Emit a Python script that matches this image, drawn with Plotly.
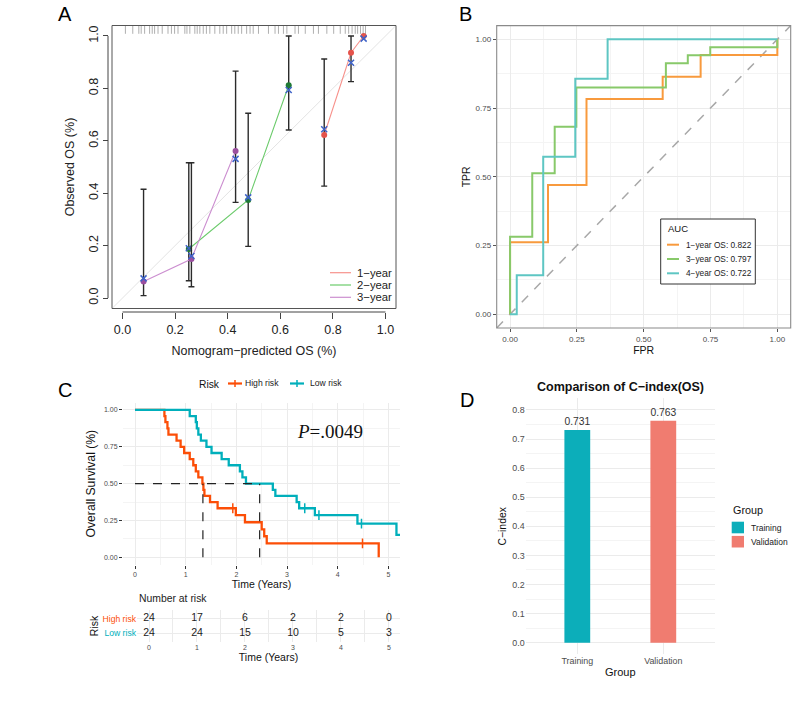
import plotly.graph_objects as go

W, H = 800, 719
def X(p): return p / W
def Y(p): return 1 - p / H

SANS = "Liberation Sans, Arial, Helvetica, sans-serif"
SERIF = "Liberation Serif, Times New Roman, Times, serif"

# ---------------- Panel A: calibration data ----------------
cal_labels = ["1\u2212year", "2\u2212year", "3\u2212year"]
pred_1y = [0.767, 0.869, 0.917]
obs_1y = [0.622, 0.936, 1.000]
corr_1y = [0.644, 0.898, 0.990]
lo_1y = [0.427, 0.826, None]
hi_1y = [0.912, 1.000, None]

pred_2y = [0.252, 0.478, 0.632]
obs_2y = [0.187, 0.374, 0.812]
corr_2y = [0.190, 0.384, 0.794]
lo_2y = [0.066, 0.197, 0.641]
hi_2y = [0.516, 0.705, 1.000]

pred_3y = [0.080, 0.262, 0.430]
obs_3y = [0.063, 0.149, 0.561]
corr_3y = [0.075, 0.160, 0.531]
lo_3y = [0.009, 0.043, 0.365]
hi_3y = [0.415, 0.516, 0.866]

rug_pred = [0.011, 0.039, 0.062, 0.071, 0.084, 0.103, 0.113, 0.122, 0.135, 0.151,
            0.173, 0.186, 0.198, 0.211, 0.237, 0.245, 0.256, 0.275, 0.284, 0.294,
            0.307, 0.319, 0.332, 0.351, 0.370, 0.383, 0.396, 0.415, 0.427, 0.440,
            0.453, 0.472, 0.485, 0.497, 0.517, 0.555, 0.580, 0.593, 0.612, 0.625,
            0.656, 0.669, 0.695, 0.726, 0.745, 0.777, 0.803, 0.828, 0.847, 0.860,
            0.873, 0.885, 0.894, 0.905, 0.915, 0.924]

# ---------------- Panel B: ROC data ----------------
roc_labels = ["1\u2212year OS: 0.822", "3\u2212year OS: 0.797", "4\u2212year OS: 0.722"]
fpr_1y = [0, 0, 0.142, 0.286, 0.571, 0.713, 1.0]
tpr_1y = [0, 0.262, 0.470, 0.783, 0.864, 0.943, 1.0]
fpr_3y = [0, 0, 0.083, 0.167, 0.248, 0.583, 0.665, 0.749, 1.0]
tpr_3y = [0, 0.282, 0.513, 0.682, 0.825, 0.913, 0.942, 0.971, 1.0]
fpr_4y = [0, 0.025, 0.124, 0.244, 0.365, 1.0]
tpr_4y = [0, 0.142, 0.573, 0.857, 1.0, 1.0]

# ---------------- Panel C: Kaplan-Meier data ----------------
km_groups = ["High risk", "Low risk"]
high_time = [0, 0.58, 0.60, 0.64, 0.66, 0.82, 0.90, 0.97, 1.08, 1.15, 1.20, 1.25,
             1.33, 1.35, 1.37, 1.48, 1.63, 1.99, 2.17, 2.50, 2.55, 2.60, 4.81]
high_surv = [1, 0.958, 0.917, 0.875, 0.833, 0.792, 0.750, 0.708, 0.667, 0.625, 0.583,
             0.542, 0.500, 0.458, 0.417, 0.375, 0.333, 0.286, 0.238, 0.190, 0.143, 0.095, 0]
high_cens_time = [1.93, 4.49]
high_cens_surv = [0.333, 0.095]
low_time = [0, 1.08, 1.20, 1.22, 1.25, 1.30, 1.41, 1.51, 1.71, 1.85, 2.07, 2.12, 2.19,
            2.72, 2.77, 3.19, 3.24, 3.55, 4.39, 5.16, 5.30]
low_surv = [1, 0.958, 0.917, 0.875, 0.833, 0.792, 0.750, 0.708, 0.667, 0.625, 0.583,
            0.542, 0.500, 0.458, 0.417, 0.375, 0.333, 0.286, 0.229, 0.152, 0.152]
low_cens_time = [3.35, 3.63, 4.47]
low_cens_surv = [0.333, 0.286, 0.229]
median_times = [1.34, 2.46]
p_value = "P=.0049"

risk_times = [0, 1, 2, 3, 4, 5]
risk_high = [24, 17, 6, 2, 2, 0]
risk_low = [24, 24, 15, 10, 5, 3]

# ---------------- Panel D: C-index data ----------------
cidx_groups = ["Training", "Validation"]
cidx_values = [0.731, 0.763]

# ---------------- colours ----------------
A_line = ["#F7928C", "#6CCB6C", "#CC8FD0"]
A_dot = ["#E5534B", "#1F7A35", "#9B4F9F"]
A_corr = "#3F63C8"
B_cols = ["#F89A3D", "#88C96A", "#5EC6C3"]
C_cols = ["#FC4E07", "#00AFBB"]
D_cols = ["#0CAEBA", "#F07C70"]
GRID = "#EBEBEB"
MINOR = "#F4F4F4"
TICKTXT = "#4D4D4D"

fig = go.Figure()

# ===== Panel A =====
for pred, obs, corr, lo, hi, lc, dc in [
        (pred_1y, obs_1y, corr_1y, lo_1y, hi_1y, A_line[0], A_dot[0]),
        (pred_2y, obs_2y, corr_2y, lo_2y, hi_2y, A_line[1], A_dot[1]),
        (pred_3y, obs_3y, corr_3y, lo_3y, hi_3y, A_line[2], A_dot[2])]:
    fig.add_trace(go.Scatter(x=pred, y=obs, mode="lines", line=dict(color=lc, width=1.1),
                             showlegend=False, xaxis="x", yaxis="y"))
    up = [None if h is None else h - o for h, o in zip(hi, obs)]
    dn = [None if l is None else o - l for l, o in zip(lo, obs)]
    fig.add_trace(go.Scatter(x=pred, y=obs, mode="markers",
                             marker=dict(color=dc, size=6),
                             error_y=dict(type="data", symmetric=False, array=up, arrayminus=dn,
                                          color="#2B2B2B", thickness=1.4, width=3),
                             showlegend=False, xaxis="x", yaxis="y"))
    fig.add_trace(go.Scatter(x=pred, y=corr, mode="markers",
                             marker=dict(symbol="x-thin-open", size=6, color=A_corr,
                                         line=dict(color=A_corr, width=1.5)),
                             showlegend=False, xaxis="x", yaxis="y"))
fig.add_trace(go.Scatter(x=rug_pred, y=[1.027] * len(rug_pred), mode="markers",
                         marker=dict(symbol="line-ns-open", size=7, color="rgba(110,110,110,0.55)",
                                     line=dict(color="rgba(110,110,110,0.55)", width=1)),
                         showlegend=False, xaxis="x", yaxis="y"))

# ===== Panel B =====
for fpr, tpr, col in [(fpr_1y, tpr_1y, B_cols[0]), (fpr_3y, tpr_3y, B_cols[1]),
                      (fpr_4y, tpr_4y, B_cols[2])]:
    fig.add_trace(go.Scatter(x=fpr, y=tpr, mode="lines", line=dict(color=col, width=2, shape="hv"),
                             showlegend=False, xaxis="x2", yaxis="y2"))

# ===== Panel C =====
for t, s, ct, cs, col in [(high_time, high_surv, high_cens_time, high_cens_surv, C_cols[0]),
                          (low_time, low_surv, low_cens_time, low_cens_surv, C_cols[1])]:
    fig.add_trace(go.Scatter(x=t, y=s, mode="lines", line=dict(color=col, width=2.3, shape="hv"),
                             showlegend=False, xaxis="x3", yaxis="y3"))
    fig.add_trace(go.Scatter(x=ct, y=cs, mode="markers",
                             marker=dict(symbol="line-ns-open", size=7, color=col,
                                         line=dict(color=col, width=1.5)),
                             showlegend=False, xaxis="x3", yaxis="y3"))
fig.add_trace(go.Scatter(x=[0, max(median_times)], y=[0.5, 0.5], mode="lines",
                         line=dict(color="#222", width=1.2, dash="dash"),
                         showlegend=False, xaxis="x3", yaxis="y3"))
for m in median_times:
    fig.add_trace(go.Scatter(x=[m, m], y=[0, 0.5], mode="lines",
                             line=dict(color="#222", width=1.2, dash="dash"),
                             showlegend=False, xaxis="x3", yaxis="y3"))

# risk table
fig.add_trace(go.Scatter(x=risk_times, y=[1] * len(risk_times), mode="text",
                         text=[str(v) for v in risk_high],
                         textfont=dict(size=10.5, color="#222", family=SANS),
                         showlegend=False, xaxis="x4", yaxis="y4"))
fig.add_trace(go.Scatter(x=risk_times, y=[0] * len(risk_times), mode="text",
                         text=[str(v) for v in risk_low],
                         textfont=dict(size=10.5, color="#222", family=SANS),
                         showlegend=False, xaxis="x4", yaxis="y4"))

# ===== Panel D =====
fig.add_trace(go.Bar(x=cidx_groups, y=cidx_values, width=0.3,
                     marker=dict(color=D_cols, line=dict(width=0)),
                     text=[f"{v:.3f}" for v in cidx_values], textposition="outside",
                     textfont=dict(size=10.9, color="#333", family=SANS),
                     cliponaxis=False, showlegend=False, xaxis="x5", yaxis="y5"))

# ---------------- axes ----------------
def tf(size, color=TICKTXT):
    return dict(size=size, color=color, family=SANS)

layout = dict(
    width=W, height=H, autosize=False,
    margin=dict(l=0, r=0, t=0, b=0),
    paper_bgcolor="white", plot_bgcolor="white",
    font=dict(family=SANS, color="#222"),
    showlegend=False,
    # A
    xaxis=dict(domain=[X(112), X(396)], range=[-0.04, 1.04], anchor="free", position=Y(312),
               showgrid=False, zeroline=False, showline=False, ticks="outside", ticklen=6,
               tickcolor="#444", tick0=0, dtick=0.2, tickformat=".1f", tickfont=tf(12.5, "#222"),
               title=dict(text="Nomogram\u2212predicted OS (%)", font=tf(12.5, "#222"), standoff=10)),
    yaxis=dict(domain=[Y(308.5), Y(25.5)], range=[-0.04, 1.04], anchor="free", position=X(108),
               showgrid=False, zeroline=False, showline=False, ticks="outside", ticklen=5,
               tickcolor="#444", tick0=0, dtick=0.2, tickformat=".1f", tickangle=-90,
               tickfont=tf(12.5, "#222"),
               title=dict(text="Observed OS (%)", font=tf(12.5, "#222"), standoff=8)),
    # B
    xaxis2=dict(domain=[X(496.7), X(790.7)], range=[-0.05, 1.05], anchor="y2",
                showgrid=True, gridcolor=GRID, zeroline=False, showline=False,
                ticks="outside", ticklen=3, tickcolor="#555", tick0=0, dtick=0.25, tickformat=".2f",
                tickfont=tf(8), minor=dict(showgrid=True, gridcolor=MINOR, dtick=0.125, tick0=0),
                title=dict(text="FPR", font=tf(10.5, "#111"), standoff=2)),
    yaxis2=dict(domain=[Y(328), Y(25.6)], range=[-0.05, 1.05], anchor="x2",
                showgrid=True, gridcolor=GRID, zeroline=False, showline=False,
                ticks="outside", ticklen=3, tickcolor="#555", tick0=0, dtick=0.25, tickformat=".2f",
                tickfont=tf(8), minor=dict(showgrid=True, gridcolor=MINOR, dtick=0.125, tick0=0),
                title=dict(text="TPR", font=tf(10.5, "#111"), standoff=2)),
    # C
    xaxis3=dict(domain=[X(123), X(400)], range=[-0.237, 5.23], anchor="y3",
                showgrid=True, gridcolor=GRID, zeroline=False, showline=False,
                ticks="outside", ticklen=3, tickcolor="#333", tick0=0, dtick=1,
                tickfont=tf(7), minor=dict(showgrid=True, gridcolor=MINOR, dtick=0.5, tick0=0),
                title=dict(text="Time (Years)", font=tf(10.5, "#111"), standoff=2)),
    yaxis3=dict(domain=[Y(564.7), Y(402.6)], range=[-0.05, 1.05], anchor="x3",
                showgrid=True, gridcolor=GRID, zeroline=False, showline=False,
                ticks="outside", ticklen=3, tickcolor="#333", tick0=0, dtick=0.25, tickformat=".2f",
                tickfont=tf(7), minor=dict(showgrid=True, gridcolor=MINOR, dtick=0.125, tick0=0),
                title=dict(text="Overall Survival (%)", font=tf(12.2, "#111"), standoff=5)),
    # risk table
    xaxis4=dict(domain=[X(137), X(400)], range=[-0.25, 5.23], anchor="y4",
                showgrid=True, gridcolor=GRID, zeroline=False, showline=False,
                ticks="", tick0=0, dtick=1, tickfont=tf(7),
                minor=dict(showgrid=True, gridcolor=GRID, dtick=0.5, tick0=0),
                title=dict(text="Time (Years)", font=tf(10.5, "#111"), standoff=2)),
    yaxis4=dict(domain=[Y(642), Y(610)], range=[-0.6, 1.6], anchor="x4",
                showgrid=True, gridcolor=GRID, zeroline=False, showline=False, ticks="",
                tickmode="array", tickvals=[1, 0],
                ticktext=[f'<span style="color:{C_cols[0]}">{km_groups[0]}</span>',
                          f'<span style="color:{C_cols[1]}">{km_groups[1]}</span>'],
                tickfont=tf(8.6),
                title=dict(text="Risk", font=tf(10.5, "#111"), standoff=1)),
    # D
    xaxis5=dict(domain=[X(525.7), X(714.9)], type="category", range=[-0.6, 1.6], anchor="y5",
                showgrid=True, gridcolor=GRID, zeroline=False, showline=False, ticks="",
                tickfont=tf(8.9),
                title=dict(text="Group", font=tf(11, "#111"), standoff=3)),
    yaxis5=dict(domain=[Y(654.3), Y(398.3)], range=[-0.04, 0.84], anchor="x5",
                showgrid=True, gridcolor=GRID, zeroline=False, showline=False, ticks="",
                tick0=0, dtick=0.1, tickformat=".1f", tickfont=tf(8.9),
                minor=dict(showgrid=True, gridcolor=MINOR, dtick=0.05, tick0=0),
                title=dict(text="C\u2212index", font=tf(10.4, "#111"), standoff=3)),
)

shapes = []
annotations = []

def ann(text, x, y, size, color="#111", xanchor="left", yanchor="middle", family=SANS, **kw):
    annotations.append(dict(text=text, x=X(x), y=Y(y), xref="paper", yref="paper",
                            xanchor=xanchor, yanchor=yanchor, showarrow=False,
                            font=dict(size=size, color=color, family=family), **kw))

def pline(x0, y0, x1, y1, color, width=1, dash=None):
    d = dict(type="line", xref="paper", yref="paper", x0=X(x0), y0=Y(y0), x1=X(x1), y1=Y(y1),
             line=dict(color=color, width=width))
    if dash:
        d["line"]["dash"] = dash
    shapes.append(d)

# Panel A decorations
shapes.append(dict(type="line", xref="x", yref="y", x0=-0.04, y0=-0.04, x1=1.04, y1=1.04,
                   line=dict(color="#E3E3E3", width=1), layer="below"))
shapes.append(dict(type="rect", xref="x domain", yref="y domain", x0=0, y0=0, x1=1, y1=1,
                   line=dict(color="#555", width=1)))
shapes.append(dict(type="line", xref="x", yref="paper", x0=0, x1=1, y0=Y(312), y1=Y(312),
                   line=dict(color="#444", width=1)))
shapes.append(dict(type="line", xref="paper", yref="y", x0=X(108), x1=X(108), y0=0, y1=1,
                   line=dict(color="#444", width=1)))
for i, (lab, col) in enumerate(zip(cal_labels, A_line)):
    yy = 272.7 + i * 12.3
    pline(330, yy, 351, yy, col, 1.2)
    ann(lab, 355, yy, 11.3, "#222")

# Panel B decorations
shapes.append(dict(type="line", xref="x2", yref="y2", x0=-0.05, y0=-0.05, x1=1.05, y1=1.05,
                   line=dict(color="#A8A8A8", width=1.5, dash="dash"), layer="between"))
shapes.append(dict(type="rect", xref="x2 domain", yref="y2 domain", x0=0, y0=0, x1=1, y1=1,
                   line=dict(color="#8A8A8A", width=1.1)))
shapes.append(dict(type="rect", xref="paper", yref="paper", x0=X(660.7), y0=Y(284), x1=X(755.3),
                   y1=Y(219), line=dict(color="#333", width=1), fillcolor="white"))
ann("AUC", 665.5, 229, 9.5, "#111")
for i, (lab, col) in enumerate(zip(roc_labels, B_cols)):
    yy = 244.7 + i * 14.3
    pline(667, yy, 679, yy, col, 2)
    ann(lab, 684, yy, 8.3, "#222")

# Panel C decorations
ann("Risk", 197, 384, 10.3, "#111")
pline(228, 383.5, 242, 383.5, C_cols[0], 2.2)
pline(235, 380, 235, 387, C_cols[0], 1.5)
ann(km_groups[0], 243, 383, 8.6, "#222")
pline(290, 383.5, 304, 383.5, C_cols[1], 2.2)
pline(297, 380, 297, 387, C_cols[1], 1.5)
ann(km_groups[1], 308, 383, 8.6, "#222")
ann(f"<i>P</i>{p_value[1:]}", 330, 431.5, 19, "#111", xanchor="center", family=SERIF)
ann("Number at risk", 137, 598, 10.4, "#222")

# Panel D decorations
ann("<b>Comparison of C\u2212index(OS)</b>", 620, 386.7, 12.5, "#111", xanchor="center")
ann("Group", 731, 510, 10.8, "#111")
for i, (lab, col) in enumerate(zip(cidx_groups, D_cols)):
    y0 = 521.7 + i * 14.2
    shapes.append(dict(type="rect", xref="paper", yref="paper", x0=X(731.7), x1=X(744),
                       y0=Y(y0 + 11.6), y1=Y(y0), line=dict(width=0), fillcolor=col))
    ann(lab, 749, y0 + 5.8, 8.5, "#222")

# panel letters
ann("A", 65, 14, 20, "#000", xanchor="center")
ann("B", 465, 14, 20, "#000", xanchor="center")
ann("C", 65, 390, 20, "#000", xanchor="center")
ann("D", 467, 400, 20, "#000", xanchor="center")

layout["shapes"] = shapes
layout["annotations"] = annotations
fig.update_layout(**layout)
fig.write_html("out.html")
